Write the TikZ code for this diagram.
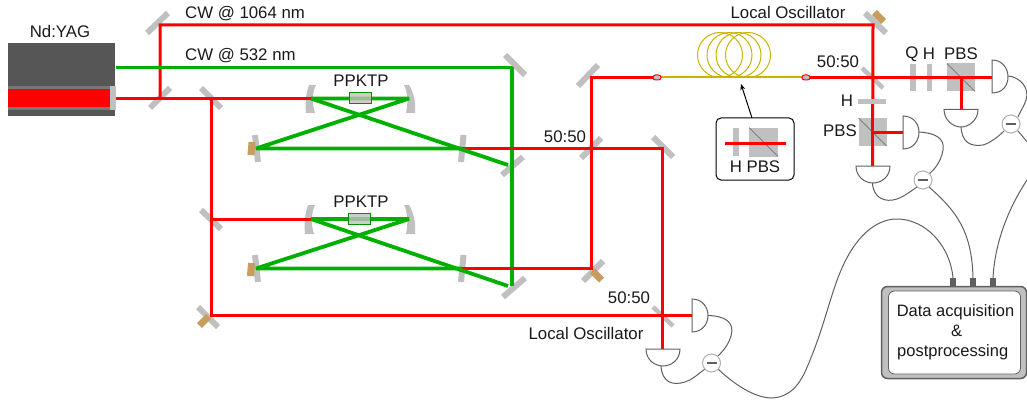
\documentclass[tikz,border=0pt]{standalone}
\usepackage{fontspec}
\setmainfont{Liberation Sans}
\usetikzlibrary{arrows.meta}
\definecolor{rd}{HTML}{FF0000}
\definecolor{gn}{HTML}{00B000}
\definecolor{mir}{HTML}{C0C0C0}
\definecolor{pz}{HTML}{C89B5E}
\definecolor{dk}{HTML}{606060}
\definecolor{fib}{HTML}{C8B400}
\tikzset{
 redb/.style={draw=rd,line width=3pt},
 greenb/.style={draw=gn,line width=3.8pt,line join=bevel},
 mirror/.style={draw=mir,line width=6pt},
 thinbs/.style={draw=mir,line width=4.5pt},
 piezo/.style={fill=pz,draw=none,minimum width=7pt,minimum height=13pt,inner sep=0pt},
 cube/.style={fill=mir,draw=none,minimum size=28pt,inner sep=0pt},
 wire/.style={draw=dk,line width=1pt},
 det/.style={draw=dk,line width=1pt,fill=white},
 lab/.style={font=\fontsize{16.8}{18}\selectfont,inner sep=0pt,text=black!90},
 daqlab/.style={font=\fontsize{16.5}{18}\selectfont,inner sep=0pt,text=black!90},
 minus/.style={circle,draw=dk!50,line width=1pt,fill=white,minimum size=18pt,inner sep=0pt},
 endfib/.style={rounded corners=2.5pt,draw=rd,line width=1pt,fill=mir,minimum width=8pt,minimum height=5pt,inner sep=0pt},
 port/.style={fill=dk,draw=none,minimum width=6pt,minimum height=8pt,inner sep=0pt},
 curved/.style={fill=mir,draw=none},
 crystal/.style={fill=mir,draw=gn!80!black,line width=1pt,minimum width=22pt,minimum height=11pt,inner sep=0pt},
 fibre/.style={draw=fib,line width=1pt},
}
\begin{document}
\begin{tikzpicture}[x=1pt,y=-1pt]
\useasboundingbox (0,0) rectangle (1027,401);
% laser
\fill[dk!90!black] (8,43) rectangle (115,116);
\fill[dk!85!white] (8,86) rectangle (115,110);
\node[lab] (yag) at (60,31) {Nd:YAG};
\node[lab,anchor=west] (cw1) at (185,13.5) {CW @ 1064 nm};
\node[lab,anchor=west] (cw2) at (185,55.5) {CW @ 532 nm};
% coordinates
\coordinate (lout) at (116,98.5);
\coordinate (gout) at (116,67.5);
\coordinate (m1) at (160,98.5);
\coordinate (m2) at (160,25);
\coordinate (m3) at (211,98.5);
\coordinate (m4) at (211,219);
\coordinate (m5) at (211,315.5);
\coordinate (lo1) at (873,25);
\coordinate (g1) at (512,67.5);
\coordinate (g2) at (508,165);
\coordinate (g3) at (508,286);
\coordinate (a1) at (311,98.5);\coordinate (a2) at (409,98.5);
\coordinate (a3) at (256,148.5);\coordinate (a4) at (462,148.5);
\coordinate (b1) at (311,219);\coordinate (b2) at (409,219);
\coordinate (b3) at (256,268.5);\coordinate (b4) at (462,268.5);
\coordinate (r1) at (591,148.5);\coordinate (r2) at (662,148.5);
\coordinate (r3) at (591,268.5);\coordinate (r4) at (591,77.5);
\coordinate (bs1) at (662,315.5);
\coordinate (bs2) at (873,77.5);
\coordinate (pb1) at (872.5,132);
\coordinate (pb2) at (961,77.5);
% mirrors
\draw[mirror] (150,108) -- (170,88);
\draw[mirror] (147,33) -- (168,13);
\draw[mirror] (201,88) -- (221,108);
\draw[mirror] (201,210) -- (221,229);
\draw[mirror] (198,307) -- (218,327);
\draw[mirror] (505,55) -- (525,75);
\draw[mirror] (502,175) -- (523,157);
\draw[mirror] (503,297) -- (525,278);
\draw[mirror] (578,86) -- (598,65);
\draw[mirror] (581,158) -- (601,138);
\draw[mirror] (653,137) -- (673,157);
\draw[mirror] (583,281) -- (603,261);
\draw[mirror] (865,13) -- (886,33);
\draw[mirror] (255,135) -- (258,162);
\draw[mirror] (463.5,135) -- (461,162);
\draw[mirror] (255,255) -- (258,282);
\draw[mirror] (463.5,255) -- (461,282);
\draw[thinbs] (653,307) -- (673,326);
\draw[thinbs] (862,68) -- (883,88);
% piezos
\node[piezo,rotate=-5] (pz1) at (251.5,148.5) {};
\node[piezo,rotate=-5] (pz2) at (251,269.5) {};
\node[piezo,rotate=-45] (pz3) at (204,321) {};
\node[piezo,rotate=45] (pz4) at (597,275.5) {};
\node[piezo,rotate=45] (pz5) at (879,17) {};
% curved mirrors
\fill[curved] (309,85) -- (316,85) .. controls (312,93) and (312,104) .. (315,113) -- (306,113) .. controls (305,104) and (306,93) .. (309,85) -- cycle;
\fill[curved] (409,85) -- (404,85) .. controls (408,93) and (408,104) .. (406,113) -- (415,113) .. controls (416,104) and (414,93) .. (409,85) -- cycle;
\fill[curved] (308,205) -- (315,205) .. controls (311,213) and (311,225) .. (314,234) -- (305,234) .. controls (304,225) and (305,213) .. (308,205) -- cycle;
\fill[curved] (409,205) -- (404,205) .. controls (408,213) and (408,225) .. (406,234) -- (415,234) .. controls (416,225) and (414,213) .. (409,205) -- cycle;
% red beams
\draw[redb] (lout) -- (a1);
\draw[redb] (m1) -- (m2) -- (lo1) -- (872.5,166);
\draw[redb] (m3) -- (m5) -- (bs1) -- (692,315.5);
\draw[redb] (m4) -- (b1);
\draw[redb] (a4) -- (r2) -- (662,349);
\draw[redb] (b4) -- (r3) -- (r4) -- (653,77.5);
\draw[redb] (810,77.5) -- (992,77.5);
% green beams
\draw[greenb] (gout) -- (g1) -- (512,286);
\draw[greenb] (a1) -- (a2) -- (a3) -- (a4);
\draw[greenb] (a1) -- (g2);
\draw[greenb] (b1) -- (b2) -- (b3) -- (b4);
\draw[greenb] (b1) -- (g3);
\draw[redb] (470,148.5) -- (r2);
\draw[redb] (470,268.5) -- (r3);
% laser output
\fill[rd] (8,89) rectangle (111,107);
\fill[mir] (110,86) rectangle (116,110);
% crystals
\node[crystal,fill opacity=.8] (cr1) at (360,98.5) {};
\node[crystal,fill opacity=.8] (cr2) at (359.5,219) {};
\node[lab] (pk1) at (361,81) {PPKTP};
\node[lab] (pk2) at (361,202) {PPKTP};
% fibre
\coordinate (fa) at (657,77);
\coordinate (fb) at (806,77);
\draw[fibre,line width=1.6pt] (fa) -- (fb);
\foreach \cx in {720,729.5,738.5,748} \draw[fibre] (\cx,55) circle (22.5);
\node[endfib] (fe1) at (657,77.5) {};
\node[endfib] (fe2) at (806,77.5) {};
% inset
\node[draw=black,line width=1pt,rounded corners=5pt,minimum width=78pt,minimum height=62pt,inner sep=0pt] (inset) at (755,149) {};
\coordinate (fibpt) at (741,84);
\coordinate (instop) at (752,118);
\draw[-{Stealth[length=6pt,width=5pt]},line width=1pt] (instop) -- (fibpt);
\fill[mir] (733,128) rectangle (739,156);
\node[cube,minimum width=29pt,minimum height=29pt] (c0) at (763.5,142) {};
\draw[dk,line width=.5pt] (749,127.5) -- (778,156.5);
\draw[redb] (725,143) -- (786,143);
\node[lab] (hp) at (755,167) {H PBS};
% plates and cubes
\fill[mir] (858,99) rectangle (886,104.5);
\fill[mir] (910,64) rectangle (916,91);
\fill[mir] (927,64) rectangle (932,91);
\node[cube] (c1) at (872.5,132) {};
\draw[dk,line width=.5pt] (858.5,118) -- (886.5,146);
\node[cube] (c2) at (961,77.5) {};
\draw[dk,line width=.5pt] (947,63.5) -- (975,91.5);
\draw[redb] (bs2) -- (992,77.5);
\draw[redb] (872.5,118) -- (872.5,166);
\draw[redb] (872.5,132) -- (903,132);
\draw[redb] (961,77.5) -- (961,110);
% wires
\draw[wire] (708,315.5) .. controls (725,316) and (735,322) .. (731,336) .. controls (728,346) and (722,352) .. (717,357);
\draw[wire] (661,366) .. controls (662,382) and (672,386) .. (685,382) .. controls (692,380) and (698,374) .. (705,369);
\draw[wire] (718,369) .. controls (735,385) and (755,398) .. (772,398) .. controls (790,397) and (800,385) .. (808,365) .. controls (825,325) and (830,295) .. (842,268) .. controls (855,238) and (875,219) .. (897,219) .. controls (925,219) and (950,245) .. (953,278);
\draw[wire] (919,132) .. controls (935,133) and (945,138) .. (943,150) .. controls (941,162) and (934,170) .. (929,174);
\draw[wire] (872.5,183) .. controls (873,198) and (885,203) .. (897,199) .. controls (905,196) and (911,191) .. (917,187);
\draw[wire] (929,187) .. controls (955,210) and (972,230) .. (973,278);
\draw[wire] (1008,76) .. controls (1020,77) and (1030,88) .. (1026,100) .. controls (1024,106) and (1021,110) .. (1018,117);
\draw[wire] (961,127) .. controls (962,142) and (970,147) .. (983,145) .. controls (990,143) and (998,137) .. (1004,131);
\draw[wire] (1018,131) -- (1029,144);
\draw[wire] (1029,177) .. controls (1010,205) and (995,240) .. (993,278);
% detectors
\draw[det] (692,299) .. controls (703,299) and (708,308) .. (708,315.5) .. controls (708,323) and (703,332) .. (692,332) -- cycle;
\draw[det] (646,349) .. controls (646,360) and (655,366) .. (663,366) .. controls (671,366) and (680,360) .. (680,349) -- cycle;
\draw[det] (903,116) .. controls (914,116) and (919,125) .. (919,132) .. controls (919,140) and (914,149) .. (903,149) -- cycle;
\draw[det] (856,166) .. controls (856,177) and (865,183) .. (873,183) .. controls (881,183) and (890,177) .. (890,166) -- cycle;
\draw[det] (992,60) .. controls (1003,60) and (1008,69) .. (1008,77) .. controls (1008,85) and (1003,93) .. (992,93) -- cycle;
\draw[det] (944,109.5) .. controls (944,120) and (953,127) .. (961,127) .. controls (969,127) and (978,120) .. (978,109.5) -- cycle;
% subtractors
\foreach \n/\x/\y in {s1/711.5/363,s2/923/180,s3/1011/124}{
 \node[minus] (\n) at (\x,\y) {};
 \fill[dk] (\x-5,\y-1.2) rectangle (\x+5,\y+1.2);
}
% data box
\node[fill=mir,draw=dk,line width=1.5pt,rounded corners=6pt,minimum width=145pt,minimum height=92pt,inner sep=0pt] (daq) at (954,332.5) {};
\node[fill=white,draw=dk,line width=.8pt,rounded corners=6pt,minimum width=132pt,minimum height=83pt,inner sep=0pt] (daqin) at (954.5,332.5) {};
\node[port] (p1) at (953,282) {};
\node[port] (p2) at (973,282) {};
\node[port] (p3) at (993,282) {};
\node[daqlab,anchor=base] (dt1) at (955.5,316) {Data acquisition};
\node[daqlab,anchor=base] (dt2) at (956.5,336) {\&};
\node[daqlab,anchor=base west] (dt3) at (897,356) {postprocessing};
% labels
\node[lab] (lo) at (788,12) {Local Oscillator};
\node[lab] (lob) at (586,333) {Local Oscillator};
\node[lab] (f1) at (565,136.5) {50:50};
\node[lab] (f2) at (838,62) {50:50};
\node[lab] (f3) at (629,298) {50:50};
\node[lab] (q) at (912,54) {Q};
\node[lab] (h1) at (929,54) {H};
\node[lab] (pbs1) at (961,54) {PBS};
\node[lab] (h2) at (847,101) {H};
\node[lab] (pbs2) at (840,131) {PBS};
\end{tikzpicture}
\end{document}
